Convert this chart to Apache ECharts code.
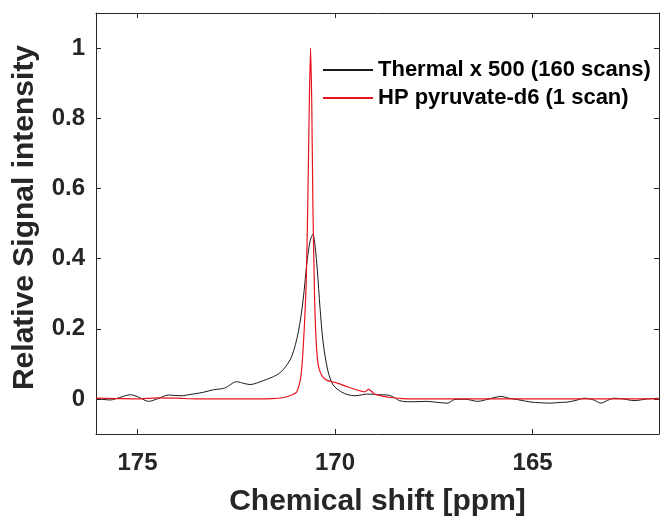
<!DOCTYPE html>
<html>
<head>
<meta charset="utf-8">
<script src="https://cdn.jsdelivr.net/npm/echarts@6/dist/echarts.min.js"></script>
<style>
html,body{margin:0;padding:0;background:#fff;}
#chart{width:661px;height:516px;}
</style>
</head>
<body>
<div id="chart"></div>
<script>
// ---- data ----
const seriesNames = ['Thermal x 500 (160 scans)', 'HP pyruvate-d6 (1 scan)'];
const xTicks = [175, 170, 165];
const yTicks = [0, 0.2, 0.4, 0.6, 0.8, 1];

const thermalPpm = [176.05,175.9,175.69,175.45,175.18,174.95,174.72,174.5,174.22,173.92,173.59,173.33,173.08,172.79,172.49,172.3,172.15,171.82,171.48,171.3,171.1,170.93,170.81,170.7,170.63,170.56,170.5,170.45,170.38,170.3,170.18,170.05,169.84,169.67,169.5,169.3,169.17,168.9,168.66,168.5,168.37,168.16,167.99,167.7,167.48,167.15,166.98,166.7,166.39,166.1,165.8,165.6,165.38,165.04,164.8,164.54,164.3,164.12,163.9,163.69,163.45,163.27,163.1,162.94,162.7,162.43,162.1,161.82];
const thermalVal = [0.002,-0.001,-0.003,0.004,0.012,0.004,-0.007,0.0,0.011,0.009,0.014,0.019,0.026,0.031,0.049,0.044,0.041,0.052,0.068,0.085,0.12,0.19,0.28,0.40,0.45,0.47,0.43,0.37,0.26,0.16,0.08,0.04,0.02,0.012,0.009,0.012,0.014,0.012,0.011,0.004,-0.005,-0.008,-0.008,-0.007,-0.009,-0.012,-0.002,-0.001,-0.007,0.0,0.007,0.002,-0.002,-0.009,-0.011,-0.012,-0.01,-0.009,-0.004,0.002,-0.003,-0.012,-0.004,0.002,0.0,-0.005,0.0,0.002];

const hpPpm = [176.05,175.5,175.0,174.5,174.0,173.5,172.5,171.6,171.3,171.08,170.97,170.87,170.82,170.77,170.73,170.69,170.65,170.62,170.59,170.56,170.52,170.48,170.43,170.37,170.29,170.18,170.0,169.67,169.4,169.25,169.15,169.1,169.0,168.8,168.59,168.3,168.0,161.8];
const hpVal = [0.002,0.001,0.0,0.003,0.002,0.0,0.0,0.001,0.004,0.012,0.02,0.06,0.12,0.22,0.33,0.55,0.85,1.0,0.85,0.55,0.3,0.17,0.1,0.075,0.06,0.052,0.047,0.034,0.024,0.02,0.027,0.024,0.014,0.008,0.004,0.001,0.0,0.0];

const zip = (xs, ys) => xs.map((x, i) => [x, ys[i]]);

const FONT = "'Liberation Sans', Arial, sans-serif";
const AX = '#262626';
const TXT = '#262626';

const chart = echarts.init(document.getElementById('chart'), null, {renderer: 'canvas'});

const baseX = {
  type: 'value', min: 161.8, max: 176.05, inverse: true,
  splitLine: {show: false},
  axisLine: {show: true, onZero: false, lineStyle: {color: AX, width: 1}},
};
const baseY = {
  type: 'value', min: -0.1, max: 1.1,
  splitLine: {show: false},
  axisLine: {show: true, onZero: false, lineStyle: {color: AX, width: 1}},
};

chart.setOption({
  animation: false,
  backgroundColor: '#fff',
  grid: {left: 96, right: 2, top: 13, bottom: 82, containLabel: false, outerBoundsMode: 'none'},
  legend: {
    data: seriesNames,
    orient: 'vertical',
    left: 317, top: 54, padding: 5,
    itemWidth: 50, itemHeight: 14, itemGap: 6,
    itemStyle: {opacity: 0},
    textStyle: {fontFamily: FONT, fontWeight: 'bold', fontSize: 22, color: '#000', lineHeight: 22}
  },
  xAxis: [
    Object.assign({}, baseX, {
      position: 'bottom',
      name: 'Chemical shift [ppm]', nameLocation: 'middle', nameGap: 53,
      nameTextStyle: {fontFamily: FONT, fontWeight: 'bold', fontSize: 30, color: TXT},
      axisTick: {show: true, inside: true, length: 5, customValues: xTicks, lineStyle: {color: AX}},
      axisLabel: {show: true, customValues: xTicks, margin: 17, fontFamily: FONT, fontWeight: 'bold', fontSize: 24, color: TXT}
    }),
    Object.assign({}, baseX, {
      position: 'top',
      axisTick: {show: true, inside: true, length: 5, customValues: xTicks, lineStyle: {color: AX}},
      axisLabel: {show: false}
    })
  ],
  yAxis: [
    Object.assign({}, baseY, {
      position: 'left',
      name: 'Relative Signal intensity', nameLocation: 'middle', nameGap: 56, nameRotate: 90,
      nameTextStyle: {fontFamily: FONT, fontWeight: 'bold', fontSize: 30, color: TXT, padding: [0, 0, 0, 12]},
      axisTick: {show: true, inside: true, length: 5, customValues: yTicks, lineStyle: {color: AX}},
      axisLabel: {show: true, customValues: yTicks, margin: 11, fontFamily: FONT, fontWeight: 'bold', fontSize: 24, color: TXT}
    }),
    Object.assign({}, baseY, {
      position: 'right',
      axisTick: {show: true, inside: true, length: 5, customValues: yTicks, lineStyle: {color: AX}},
      axisLabel: {show: false}
    })
  ],
  series: [
    {
      name: seriesNames[0], type: 'line', xAxisIndex: 0, yAxisIndex: 0,
      data: zip(thermalPpm, thermalVal), symbol: 'none', smooth: 0.3,
      lineStyle: {color: '#1a1a1a', width: 1}, itemStyle: {color: '#1a1a1a'}, z: 2
    },
    {
      name: seriesNames[1], type: 'line', xAxisIndex: 0, yAxisIndex: 0,
      data: zip(hpPpm, hpVal), symbol: 'none', smooth: 0.2,
      lineStyle: {color: '#e8141c', width: 1.2}, itemStyle: {color: '#e8141c'}, z: 3
    }
  ]
});
</script>
</body>
</html>
